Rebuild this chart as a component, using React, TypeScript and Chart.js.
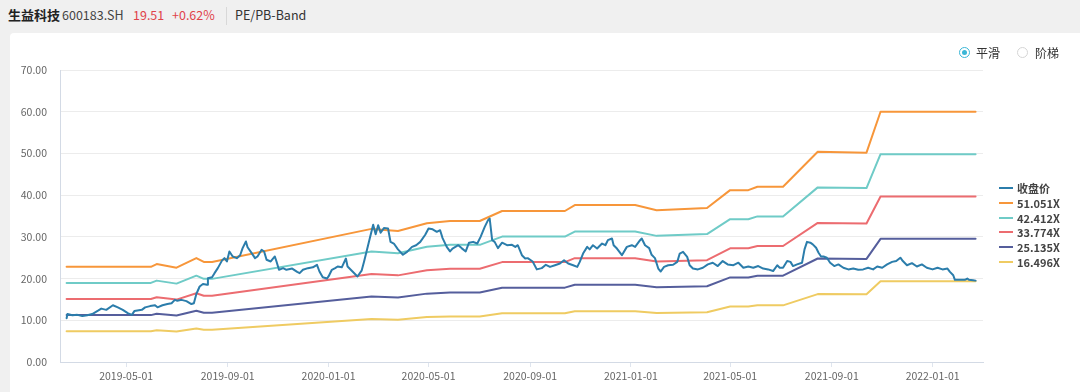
import { useEffect, useRef } from "react";
import { Chart, registerables } from "chart.js";

Chart.register(...registerables);

// ---- data ----
const START_DATE = "2019-02-18"; // day 0 for all series
const X_MIN_DATE = "2019-02-10";
const X_MAX_DATE = "2022-03-03";
const X_TICK_LABELS = [
  "2019-05-01", "2019-09-01", "2020-01-01", "2020-05-01", "2020-09-01",
  "2021-01-01", "2021-05-01", "2021-09-01", "2022-01-01",
];
const Y_MIN = 0;
const Y_MAX = 70;
const Y_STEP = 10;

const SERIES_NAMES = ["收盘价", "51.051X", "42.412X", "33.774X", "25.135X", "16.496X"];
const SERIES_COLORS = ["#2b7dab", "#f7963a", "#6fcbc7", "#ec6c70", "#555e9c", "#efcb62"];

// band vertices, in days since START_DATE
const BAND_DAYS = [0, 102, 109, 133, 157, 166, 176, 369, 401, 436, 464, 500, 527, 603, 615, 688, 714, 775, 803, 825, 836, 867, 909, 968, 985, 1100];
const BAND_51 = [22.82, 22.82, 23.48, 22.62, 24.91, 23.99, 23.99, 31.91, 31.40, 33.28, 33.80, 33.80, 36.20, 36.20, 37.62, 37.62, 36.40, 36.91, 41.20, 41.20, 42.01, 42.01, 50.39, 50.18, 59.98, 59.98];
const BAND_42 = [18.96, 18.96, 19.51, 18.79, 20.70, 19.93, 19.93, 26.51, 26.08, 27.65, 28.08, 28.08, 30.07, 30.07, 31.26, 31.26, 30.24, 30.66, 34.23, 34.23, 34.90, 34.90, 41.86, 41.69, 49.83, 49.83];
const BAND_33 = [15.10, 15.10, 15.54, 14.96, 16.48, 15.87, 15.87, 21.11, 20.77, 22.02, 22.36, 22.36, 23.95, 23.95, 24.89, 24.89, 24.08, 24.42, 27.26, 27.26, 27.80, 27.80, 33.34, 33.20, 39.68, 39.68];
const BAND_25 = [11.24, 11.24, 11.56, 11.14, 12.27, 11.81, 11.81, 15.71, 15.46, 16.39, 16.64, 16.64, 17.82, 17.82, 18.52, 18.52, 17.92, 18.17, 20.28, 20.28, 20.69, 20.69, 24.81, 24.71, 29.53, 29.53];
const BAND_16 = [7.37, 7.37, 7.59, 7.31, 8.05, 7.75, 7.75, 10.31, 10.15, 10.76, 10.92, 10.92, 11.70, 11.70, 12.16, 12.16, 11.76, 11.93, 13.31, 13.31, 13.58, 13.58, 16.28, 16.22, 19.38, 19.38];

// close price: [days since START_DATE, price]
const CLOSE: [number, number][] = [
  [0, 10.5], [1, 11.5], [7, 11.2], [13, 11.3], [19, 11.0], [25, 11.2], [31, 11.5], [38, 12.3], [42, 12.8], [48, 12.5],
  [56, 13.6], [62, 13.1], [68, 12.5], [74, 11.7], [79, 11.3], [82, 12.2], [91, 12.5], [95, 13.1], [101, 13.4], [107, 13.6],
  [110, 13.1], [116, 13.6], [122, 13.9], [127, 14.1], [131, 14.9], [134, 14.7], [139, 14.9], [145, 14.6], [151, 13.9], [154, 14.1],
  [157, 16.3], [161, 18.1], [165, 18.7], [170, 18.5], [171, 20.1], [176, 20.3], [179, 21.3], [183, 22.5], [188, 24.3], [191, 24.9],
  [194, 24.1], [197, 26.5], [201, 25.3], [206, 24.9], [210, 25.6], [213, 27.3], [217, 28.9], [219, 27.5], [224, 26.1], [228, 24.9],
  [231, 25.3], [236, 26.9], [239, 26.5], [242, 24.5], [247, 24.1], [252, 25.3], [254, 24.1], [257, 22.1], [262, 22.5], [266, 22.1],
  [273, 22.4], [279, 21.6], [282, 21.3], [286, 22.1], [292, 22.5], [298, 22.7], [303, 23.3], [306, 21.7], [310, 20.3], [315, 20.0],
  [317, 20.5], [321, 22.1], [325, 22.5], [328, 22.9], [333, 22.7], [338, 24.8], [340, 22.9], [346, 21.7], [352, 20.5], [357, 21.9],
  [360, 24.1], [363, 26.5], [367, 29.7], [371, 32.9], [374, 30.6], [377, 32.8], [380, 31.0], [384, 32.1], [389, 32.0], [392, 28.8],
  [396, 28.4], [401, 27.0], [407, 25.7], [412, 26.4], [418, 27.6], [423, 28.0], [428, 28.8], [434, 30.5], [438, 32.0], [443, 31.8],
  [448, 31.2], [452, 31.6], [455, 29.7], [460, 27.6], [464, 26.5], [467, 27.2], [474, 28.0], [478, 27.3], [483, 26.5], [487, 28.6],
  [492, 28.8], [497, 28.4], [501, 30.0], [506, 32.4], [510, 34.0], [512, 34.4], [515, 29.2], [518, 28.8], [522, 27.3], [527, 28.6],
  [533, 28.0], [539, 28.1], [543, 27.6], [546, 28.0], [551, 25.6], [555, 24.8], [558, 24.9], [564, 24.1], [569, 22.2], [575, 22.5],
  [580, 23.3], [585, 22.8], [591, 23.2], [597, 23.6], [602, 24.4], [607, 23.6], [613, 23.2], [618, 22.8], [621, 24.0], [625, 26.0],
  [630, 27.6], [633, 27.0], [637, 28.0], [642, 27.2], [648, 28.4], [652, 28.0], [655, 29.2], [660, 29.6], [662, 28.0], [666, 27.2],
  [672, 25.6], [678, 27.6], [684, 28.0], [688, 27.6], [694, 29.2], [696, 29.6], [700, 28.0], [705, 27.3], [708, 25.7], [712, 24.9],
  [716, 22.4], [719, 21.7], [723, 22.8], [728, 23.2], [734, 23.3], [739, 24.0], [742, 26.0], [746, 26.4], [751, 25.2], [754, 23.2],
  [758, 22.4], [764, 22.2], [770, 22.6], [776, 23.4], [782, 23.8], [788, 23.0], [794, 24.2], [800, 23.4], [807, 23.2], [813, 23.8],
  [819, 22.6], [825, 22.9], [831, 22.6], [837, 23.0], [843, 22.4], [849, 22.2], [855, 21.8], [860, 23.2], [863, 22.6], [867, 22.6],
  [872, 24.2], [876, 24.0], [879, 23.0], [884, 23.4], [890, 23.8], [893, 27.0], [896, 28.8], [900, 28.6], [903, 28.2], [907, 27.4],
  [910, 26.2], [913, 25.3], [916, 25.3], [920, 25.0], [924, 23.8], [929, 23.0], [934, 23.4], [940, 22.6], [946, 22.2], [952, 22.4],
  [958, 22.1], [964, 22.2], [970, 22.6], [976, 22.2], [981, 22.9], [987, 22.6], [993, 23.4], [999, 24.0], [1004, 24.2], [1009, 25.0],
  [1012, 24.2], [1017, 23.2], [1023, 23.7], [1029, 22.9], [1035, 23.4], [1041, 22.6], [1048, 22.2], [1054, 22.6], [1060, 22.2], [1066, 22.4],
  [1069, 21.6], [1073, 20.8], [1075, 19.7], [1081, 19.7], [1087, 19.7], [1090, 20.0], [1092, 19.7], [1097, 19.6], [1100, 19.51],
];

const HEADER_NAME = "生益科技";
const HEADER_CODE = "600183.SH";
const HEADER_PRICE = "19.51";
const HEADER_CHANGE = "+0.62%";
const HEADER_TOOL = "PE/PB-Band";
const RADIO_LABELS = ["平滑", "阶梯"];

const FONT = "'Noto Sans CJK SC', 'Noto Sans', sans-serif";

const dayOf = (s: string) => Math.round((Date.parse(s) - Date.parse(START_DATE)) / 86400000);

export default function App() {
  const canvasRef = useRef<HTMLCanvasElement | null>(null);

  useEffect(() => {
    if (!canvasRef.current) return;
    const bands = [BAND_51, BAND_42, BAND_33, BAND_25, BAND_16];
    const datasets = [
      {
        label: SERIES_NAMES[0],
        data: CLOSE.map(([d, v]) => ({ x: d, y: v })),
        borderColor: SERIES_COLORS[0],
        borderWidth: 2,
      },
      ...bands.map((arr, i) => ({
        label: SERIES_NAMES[i + 1],
        data: BAND_DAYS.map((d, j) => ({ x: d, y: arr[j] })),
        borderColor: SERIES_COLORS[i + 1],
        borderWidth: 2,
      })),
    ];
    const tickMap: Record<number, string> = {};
    X_TICK_LABELS.forEach((l) => (tickMap[dayOf(l)] = l));

    const chart = new Chart(canvasRef.current, {
      type: "line",
      data: { datasets: datasets as any },
      options: {
        animation: false,
        responsive: false,
        maintainAspectRatio: false,
        layout: { padding: { left: 0, right: 97, top: 70, bottom: 0 } },
        plugins: { legend: { display: false }, tooltip: { enabled: false } },
        elements: {
          point: { radius: 0 },
          line: { tension: 0, borderJoinStyle: "round", borderCapStyle: "round" },
        },
        scales: {
          x: {
            type: "linear",
            min: dayOf(X_MIN_DATE),
            max: dayOf(X_MAX_DATE),
            afterBuildTicks: (s: any) => {
              s.ticks = X_TICK_LABELS.map((l) => ({ value: dayOf(l) }));
            },
            afterFit: (s: any) => {
              s.height = 30;
            },
            ticks: {
              autoSkip: false,
              maxRotation: 0,
              padding: 3,
              color: "#666",
              font: { family: FONT, size: 10.5 },
              callback: (v: any) => tickMap[v] ?? "",
            },
            grid: { drawOnChartArea: false, drawTicks: true, tickLength: 5, color: "#dfe5ee" },
            border: { display: true, color: "#d3dae5" },
          },
          y: {
            min: Y_MIN,
            max: Y_MAX,
            afterFit: (s: any) => {
              s.width = 60;
            },
            ticks: {
              stepSize: Y_STEP,
              padding: 13,
              color: "#666",
              font: { family: FONT, size: 10.5 },
              callback: (v: any) => Number(v).toFixed(2),
            },
            grid: { color: "#ececec", drawTicks: false },
            border: { display: true, color: "#d3dae5" },
          },
        },
      },
    });
    return () => chart.destroy();
  }, []);

  const legendTop = 188;
  const legendGap = 14.8;

  return (
    <div
      style={{
        position: "fixed",
        left: 0,
        top: 0,
        width: 1080,
        height: 392,
        background: "#f0f0f0",
        fontFamily: FONT,
        overflow: "hidden",
      }}
    >
      {/* header */}
      <span style={{ position: "absolute", left: 8, top: 6, fontSize: 13, fontWeight: 700, color: "#222", lineHeight: "18px" }}>
        {HEADER_NAME}
      </span>
      <span style={{ position: "absolute", left: 62, top: 6, fontSize: 12.5, color: "#444", lineHeight: "18px" }}>
        {HEADER_CODE}
      </span>
      <span style={{ position: "absolute", left: 133, top: 6, fontSize: 12.5, color: "#e0434a", lineHeight: "18px" }}>
        {HEADER_PRICE}
      </span>
      <span style={{ position: "absolute", left: 172, top: 6, fontSize: 12.5, color: "#e0434a", lineHeight: "18px" }}>
        {HEADER_CHANGE}
      </span>
      <div style={{ position: "absolute", left: 226, top: 7, width: 1, height: 18, background: "#d8d8d8" }} />
      <span style={{ position: "absolute", left: 235, top: 6, fontSize: 12.5, color: "#333", lineHeight: "18px" }}>
        {HEADER_TOOL}
      </span>

      {/* white card */}
      <div
        style={{
          position: "absolute",
          left: 10,
          top: 33,
          width: 1075,
          height: 365,
          background: "#fff",
          borderRadius: 4,
        }}
      />

      <canvas
        ref={canvasRef}
        width={1080}
        height={392}
        style={{ position: "absolute", left: 0, top: 0, width: 1080, height: 392 }}
      />

      {/* radio switches */}
      <div
        style={{
          position: "absolute",
          left: 959,
          top: 47,
          width: 9,
          height: 9,
          borderRadius: "50%",
          border: "1.5px solid #3ab6d6",
          boxSizing: "content-box",
        }}
      >
        <div style={{ position: "absolute", left: 2, top: 2, width: 5, height: 5, borderRadius: "50%", background: "#3ab6d6" }} />
      </div>
      <span style={{ position: "absolute", left: 976, top: 44, fontSize: 12, color: "#333", lineHeight: "17px" }}>
        {RADIO_LABELS[0]}
      </span>
      <div
        style={{
          position: "absolute",
          left: 1017,
          top: 47,
          width: 9,
          height: 9,
          borderRadius: "50%",
          border: "1.5px solid #d4d4d4",
          boxSizing: "content-box",
        }}
      />
      <span style={{ position: "absolute", left: 1035, top: 44, fontSize: 12, color: "#333", lineHeight: "17px" }}>
        {RADIO_LABELS[1]}
      </span>

      {/* legend */}
      {SERIES_NAMES.map((name, i) => (
        <div key={name}>
          <div
            style={{
              position: "absolute",
              left: 999,
              top: legendTop + i * legendGap - 1,
              width: 14,
              height: 2,
              background: SERIES_COLORS[i],
            }}
          />
          <span
            style={{
              position: "absolute",
              left: 1017,
              top: legendTop + i * legendGap - 8,
              fontSize: 11,
              fontWeight: 700,
              color: "#444",
              lineHeight: "16px",
              whiteSpace: "nowrap",
            }}
          >
            {name}
          </span>
        </div>
      ))}
    </div>
  );
}
